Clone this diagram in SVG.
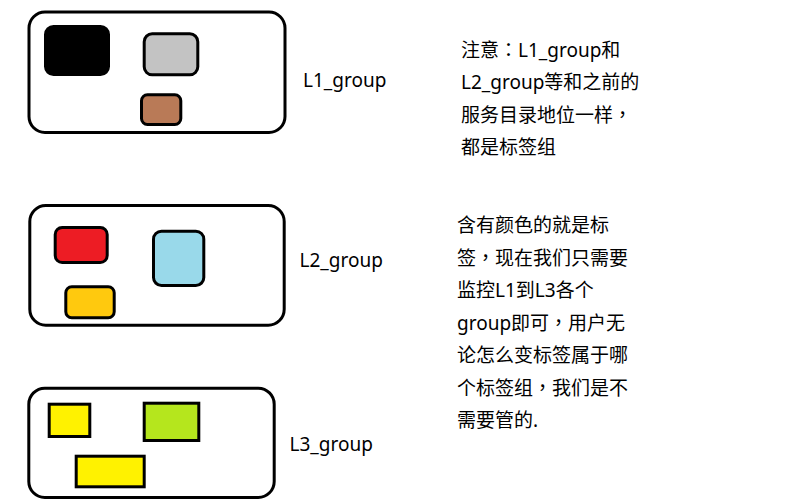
<svg xmlns="http://www.w3.org/2000/svg" width="791" height="504" viewBox="0 0 791 504">
<style>
.box{fill:#ffffff;stroke:#000000;stroke-width:3}
.tag{stroke:#000000;stroke-width:3}
.lbl{font-family:"Noto Sans","Noto Sans CJK SC",sans-serif;font-size:19px;fill:#000000}
.note{font-family:"Noto Sans","Noto Sans CJK SC",sans-serif;font-size:19px;fill:#000000}
.p{font-family:"Noto Sans CJK TC","Noto Sans CJK SC",sans-serif}
</style>
<rect x="0" y="0" width="791" height="504" fill="#ffffff"/>
<g id="L1_group">
  <rect class="box" x="29" y="12" width="256" height="120.5" rx="16"/>
  <rect class="tag" x="45.5" y="26.5" width="63" height="48" rx="8" fill="#000000"/>
  <rect class="tag" x="144.2" y="33.8" width="53.6" height="41" rx="8" fill="#c3c3c3"/>
  <rect class="tag" x="141.5" y="94.8" width="39.3" height="29.7" rx="6" fill="#b97a57"/>
  <text class="lbl" x="303" y="87">L1_group</text>
</g>
<g id="L2_group">
  <rect class="box" x="29.8" y="205.5" width="254.4" height="119.7" rx="16"/>
  <rect class="tag" x="55.2" y="227.5" width="52" height="35" rx="7" fill="#ed1c24"/>
  <rect class="tag" x="153.5" y="231.2" width="50.3" height="54.3" rx="8" fill="#99d9ea"/>
  <rect class="tag" x="65.8" y="286.8" width="48.4" height="31" rx="6" fill="#ffc90e"/>
  <text class="lbl" x="299.5" y="267.3">L2_group</text>
</g>
<g id="L3_group">
  <rect class="box" x="28.8" y="388.2" width="245.4" height="109.3" rx="16"/>
  <rect class="tag" x="49.2" y="404.2" width="40.6" height="32.3" fill="#fff200"/>
  <rect class="tag" x="144.2" y="403.2" width="54.6" height="37.3" fill="#b5e61d"/>
  <rect class="tag" x="76.2" y="456.2" width="68" height="30.6" fill="#fff200"/>
  <text class="lbl" x="289.5" y="450.7">L3_group</text>
</g>
<g id="note1">
  <text class="note" x="461" y="56.5">注意<tspan class="p">：</tspan>L1_group和</text>
  <text class="note" x="461" y="89">L2_group等和之前的</text>
  <text class="note" x="461" y="121.5">服务目录地位一样<tspan class="p">，</tspan></text>
  <text class="note" x="461" y="154">都是标签组</text>
</g>
<g id="note2">
  <text class="note" x="457" y="232">含有颜色的就是标</text>
  <text class="note" x="457" y="264.5">签<tspan class="p">，</tspan>现在我们只需要</text>
  <text class="note" x="457" y="297">监控L1到L3各个</text>
  <text class="note" x="457" y="329.5">group即可<tspan class="p">，</tspan>用户无</text>
  <text class="note" x="457" y="362">论怎么变标签属于哪</text>
  <text class="note" x="457" y="394.5">个标签组<tspan class="p">，</tspan>我们是不</text>
  <text class="note" x="457" y="427">需要管的.</text>
</g>
<g id="connectors"/>
</svg>
